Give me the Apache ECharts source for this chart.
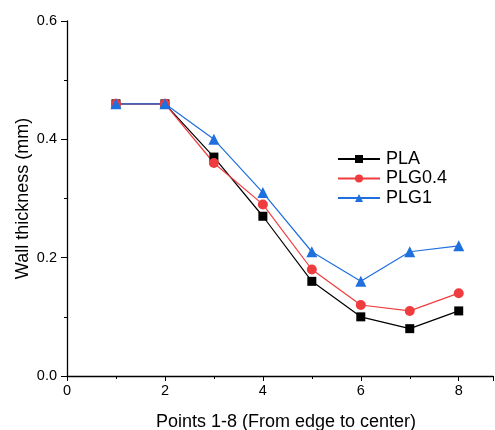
<!DOCTYPE html>
<html>
<head>
<meta charset="utf-8">
<script src="https://cdn.jsdelivr.net/npm/echarts@6/dist/echarts.min.js"></script>
<style>
  html, body { margin: 0; padding: 0; background: #fff; }
  #chart { width: 495px; height: 430px; }
</style>
</head>
<body>
<div id="chart"></div>
<script>
// points along the wall, 1-8
var points = [1, 2, 3, 4, 5, 6, 7, 8];
var seriesNames = ['PLA', 'PLG0.4', 'PLG1'];
var plaValues = [0.46, 0.46, 0.37, 0.27, 0.16, 0.10, 0.08, 0.11];
var plg04Values = [0.46, 0.46, 0.36, 0.29, 0.18, 0.12, 0.11, 0.14];
var plg1Values = [0.46, 0.46, 0.40, 0.31, 0.21, 0.16, 0.21, 0.22];

function pairs(vals) {
	return points.map(function(p, i) { return [p, vals[i]]; });
}

var chart = echarts.init(document.getElementById('chart'));
var font = 'Liberation Sans, Arial, sans-serif';

function makeSeries(name, vals, color, symbol, size) {
	return {
		name: name,
		type: 'line',
		data: pairs(vals),
		symbol: symbol,
		symbolSize: size,
		showAllSymbol: true,
		lineStyle: { color: color, width: 1.2 },
		itemStyle: { color: color },
		emphasis: { disabled: true },
		z: 3
	};
}

chart.setOption({
	animation: false,
	grid: { left: 67, right: 2, top: 21, bottom: 54, containLabel: false, outerBoundsMode: 'none' },
	legend: {
		orient: 'vertical',
		left: 332,
		top: 145,
		itemWidth: 42,
		itemHeight: 10,
		itemGap: 1.5,
		data: seriesNames,
		textStyle: { fontFamily: font, fontSize: 18, color: '#000', padding: [0, 0, 0, 1] }
	},
	xAxis: {
		type: 'value',
		min: 0,
		max: 8.7,
		interval: 2,
		name: 'Points 1-8 (From edge to center)',
		nameLocation: 'middle',
		nameGap: 37,
		nameMoveOverlap: false,
		nameTextStyle: { fontFamily: font, fontSize: 18, color: '#000', padding: [0, 0, 0, 12] },
		axisLine: { show: true, onZero: false, lineStyle: { color: '#000', width: 1.3 } },
		axisTick: { show: true, length: 5, lineStyle: { color: '#000' } },
		minorTick: { show: true, splitNumber: 2, length: 3, lineStyle: { color: '#000' } },
		splitLine: { show: false },
		axisLabel: {
			fontFamily: font, fontSize: 14.5, color: '#000', margin: 7,
			showMaxLabel: false,
			formatter: function(v) { return (v % 2 === 0) ? String(v) : ''; }
		}
	},
	yAxis: {
		type: 'value',
		min: 0,
		max: 0.6,
		interval: 0.2,
		name: 'Wall thickness (mm)',
		nameLocation: 'middle',
		nameGap: 35,
		nameMoveOverlap: false,
		nameTextStyle: { fontFamily: font, fontSize: 18, color: '#000' },
		axisLine: { show: true, lineStyle: { color: '#000', width: 1.3 } },
		axisTick: { show: true, length: 6, lineStyle: { color: '#000' } },
		minorTick: { show: true, splitNumber: 2, length: 3, lineStyle: { color: '#000' } },
		splitLine: { show: false },
		axisLabel: {
			fontFamily: font, fontSize: 14.5, color: '#000', margin: 10,
			formatter: function(v) { return v.toFixed(1); }
		}
	},
	series: [
		makeSeries('PLA', plaValues, '#000000', 'rect', 9),
		makeSeries('PLG0.4', plg04Values, '#ef3c3f', 'circle', 10),
		makeSeries('PLG1', plg1Values, '#1f6fdf', 'triangle', 11)
	]
});
</script>
</body>
</html>
